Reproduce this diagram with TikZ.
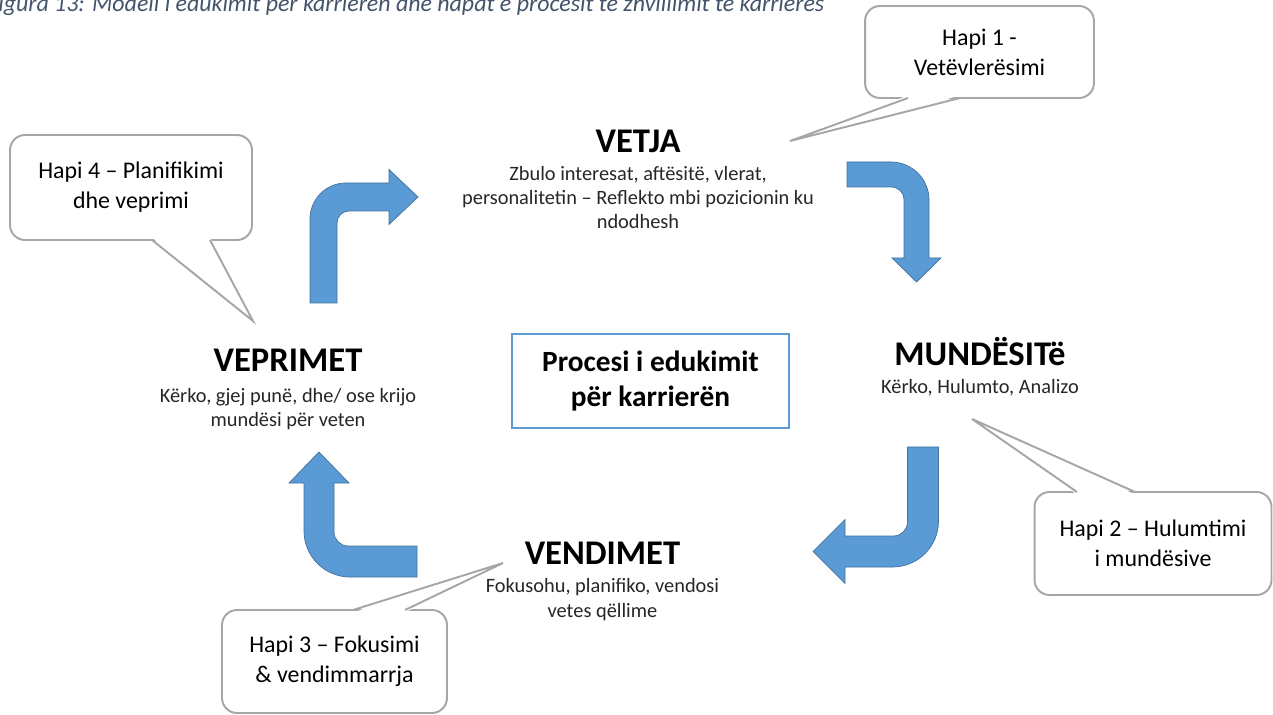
\documentclass[tikz,border=0pt]{standalone}
\usepackage{fontspec}
\setmainfont{Carlito}
\definecolor{blaa}{HTML}{5B9BD5}
\definecolor{blaakant}{HTML}{41719C}
\definecolor{gri}{HTML}{A6A6A6}
\definecolor{titulli}{HTML}{44546A}

\begin{document}
\begin{tikzpicture}[x=0.02cm, y=-0.02cm]
	% Stiler
	\tikzstyle{titull}		= [font=\fontsize{19.7}{23}\selectfont\bfseries, inner sep=0pt]
	\tikzstyle{pershkrim}	= [font=\fontsize{11.6}{13.8}\selectfont, text=black!85, align=center, inner sep=0pt]
	\tikzstyle{hapi}		= [rectangle, rounded corners=0.3cm, draw=gri, line width=1.1pt, fill=white, align=center, font=\fontsize{13.6}{17}\selectfont]
	\tikzstyle{bisht}		= [draw=gri, line width=1.1pt]
	\tikzstyle{shigjeta}	= [fill=blaa, draw=blaakant, line width=0.4pt]

	\useasboundingbox (0,0) rectangle (1273,715);

	% Titulli i figures
	\node[anchor=base west, inner sep=0pt, text=titulli, font=\fontsize{13.6}{16}\selectfont\itshape] (figura) at (-13,11.5) {Figura 13: Modeli i edukimit për karrierën dhe hapat e procesit të zhvillimit të karrierës};

	% Fazat
	\node[titull]		(vetja)				at (638,141)		{VETJA};
	\node[pershkrim]	(vetja_tekst)		[below of=vetja, node distance=1.13cm]		{Zbulo interesat, aftësitë, vlerat,\\personalitetin – Reflekto mbi pozicionin ku\\ndodhesh};
	\node[titull]		(mundesite)			at (980,351.5)		{MUNDËSITë};
	\node[pershkrim]	(mundesite_tekst)	[below of=mundesite, node distance=0.73cm]	{Kërko, Hulumto, Analizo};
	\node[titull]		(vendimet)			at (602.5,553)		{VENDIMET};
	\node[pershkrim]	(vendimet_tekst)	[below of=vendimet, node distance=0.93cm]	{Fokusohu, planifiko, vendosi\\vetes qëllime};
	\node[titull]		(veprimet)			at (288,360.4)		{VEPRIMET};
	\node[pershkrim]	(veprimet_tekst)	[below of=veprimet, node distance=0.98cm]	{Kërko, gjej punë, dhe/ ose krijo\\mundësi për veten};

	% Kutia ne qender
	\node[rectangle, draw=blaa, line width=1pt, minimum width=5.54cm, minimum height=1.88cm, align=center, font=\fontsize{16.7}{19.6}\selectfont\bfseries] (procesi) at (650.5,381) {Procesi i edukimit\\për karrierën};

	% Shigjetat
	\draw[shigjeta] (847,162) -- (891,162) .. controls (912,162) and (929,179) .. (929,200) -- (929,258) -- (941,258) -- (916.5,282) -- (892,258) -- (904,258) -- (904,199) .. controls (904,192.4) and (897.4,187) .. (892,187) -- (847,187) -- cycle;
	\draw[shigjeta] (907.5,447) -- (938.5,447) -- (938.5,521) .. controls (938.5,546.4) and (917.9,567) .. (892.5,567) -- (845,567) -- (845,583.5) -- (813,551.5) -- (845,519.5) -- (845,536) -- (893.5,536) .. controls (901.2,536) and (907.5,529.7) .. (907.5,522) -- cycle;
	\draw[shigjeta] (417,546) -- (417,577) -- (350,577) .. controls (324.6,577) and (304,556.4) .. (304,531) -- (304,483) -- (289,483) -- (319,452) -- (349,483) -- (334,483) -- (334,532) .. controls (334,539.7) and (340.3,546) .. (348,546) -- cycle;
	\draw[shigjeta] (310,303) -- (310,219) .. controls (310,199.1) and (326.1,183) .. (346,183) -- (389,183) -- (389,169.5) -- (418,197) -- (389,224.5) -- (389,211) -- (349,211) .. controls (342.4,211) and (337,216.4) .. (337,223) -- (337,303) -- cycle;

	% Hapat
	\node[hapi, minimum width=4.58cm, minimum height=1.84cm]	(hapi_1)	at (979.5,52)		{Hapi 1 -\\Vetëvlerësimi};
	\node[hapi, minimum width=4.74cm, minimum height=2.06cm]	(hapi_2)	at (1153,543.5)		{Hapi 2 – Hulumtimi\\i mundësive};
	\node[hapi, minimum width=4.5cm, minimum height=2.06cm]		(hapi_3)	at (334.5,661.5)	{Hapi 3 – Fokusimi\\\& vendimmarrja};
	\node[hapi, minimum width=4.84cm, minimum height=2.1cm]		(hapi_4)	at (131,187.5)		{Hapi 4 – Planifikimi\\dhe veprimi};

	% Bishtat e hapave
	\coordinate (bisht_1) at (790,141);
	\coordinate (bisht_2) at (972,419);
	\coordinate (bisht_3) at (503,563);
	\coordinate (bisht_4) at (253,321);
	\foreach \xa/\xb/\yb/\yi/\spiss in {908/960/98/95.5/bisht_1, 1077/1135/492/494.5/bisht_2, 353/405/610/612.5/bisht_3, 152/210/240/237.5/bisht_4} {
		\fill[white] (\xa,\yi) -- (\spiss) -- (\xb,\yi) -- cycle;
		\draw[bisht] (\xa,\yb) -- (\spiss) -- (\xb,\yb);
	}
\end{tikzpicture}
\end{document}
